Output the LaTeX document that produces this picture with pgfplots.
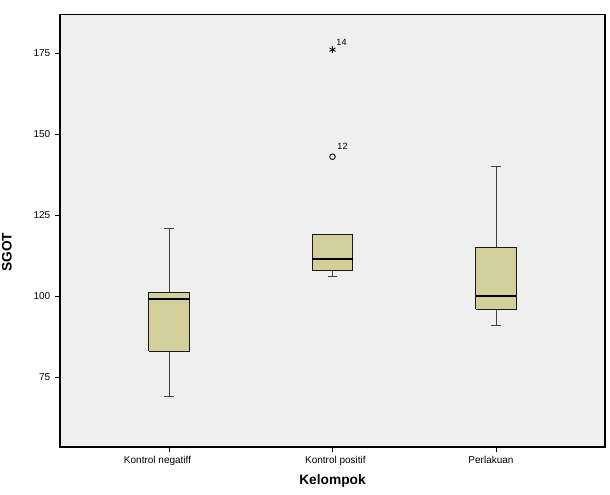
\documentclass[border=0pt]{standalone}
\usepackage{fontspec}
\setmainfont{Liberation Sans}
\usepackage{pgfplots}
\pgfplotsset{compat=1.18}
\definecolor{boxfill}{HTML}{D3CF9A}
\definecolor{bg}{HTML}{EFEFEF}
\begin{document}
\begin{tikzpicture}
\useasboundingbox (-45pt,-35.25pt) rectangle (412.5pt,335.25pt);
\begin{axis}[
  at={(0,0)}, anchor=south west,
  scale only axis, width=408.75pt, height=324.5pt,
  xmin=0.3333, xmax=3.6667, ymin=53.5, ymax=186.9,
  axis background/.style={fill=bg},
  axis line style={black, line width=0.9pt},
  xtick={1,2,3},
  xticklabels={{Kontrol negatiff\hspace*{17.2pt}},{\hspace*{4.4pt}Kontrol positif},{Perlakuan\hspace*{7.5pt}}},
  ytick={75,100,125,150,175},
  tick align=outside, tick pos=left,
  major tick length=3.75pt,
  tick style={black, line width=0.6pt},
  ticklabel style={font=\fontsize{7.5}{8}\selectfont},
  /pgf/number format/assume math mode=true,
  xlabel={Kelompok}, ylabel={SGOT},
  label style={font=\bfseries\fontsize{10.3}{12}\selectfont},
  xlabel style={at={(axis description cs:0.5,-0.0786)}, anchor=center},
  ylabel style={at={(axis description cs:-0.0973,0.45)}, anchor=center},
  whisk/.style={draw=black!75, line width=0.65pt, forget plot},
  bx/.style={draw=black!90, line width=0.75pt, fill=boxfill, line join=miter, forget plot},
  med/.style={draw=black, line width=1.6pt, forget plot},
]
% Kontrol negatiff: min 69, Q1 83, median 99, Q3 101, max 121
\addplot[whisk] coordinates {(1,69) (1,83)};
\addplot[whisk] coordinates {(1,101) (1,121)};
\addplot[whisk] coordinates {(0.97,69) (1.03,69)};
\addplot[whisk] coordinates {(0.97,121) (1.03,121)};
\addplot[bx] coordinates {(0.875,83) (1.125,83) (1.125,101) (0.875,101) (0.875,83)};
\addplot[med] coordinates {(0.875,99) (1.125,99)};
% Kontrol positif: min 106, Q1 108, median 111.5, Q3 119, max 119
\addplot[whisk] coordinates {(2,106) (2,108)};
\addplot[whisk] coordinates {(1.97,106) (2.03,106)};
\addplot[bx] coordinates {(1.875,108) (2.125,108) (2.125,119) (1.875,119) (1.875,108)};
\addplot[med] coordinates {(1.875,111.5) (2.125,111.5)};
% Perlakuan: min 91, Q1 96, median 100, Q3 115, max 140
\addplot[whisk] coordinates {(3,91) (3,96)};
\addplot[whisk] coordinates {(3,115) (3,140)};
\addplot[whisk] coordinates {(2.97,91) (3.03,91)};
\addplot[whisk] coordinates {(2.97,140) (3.03,140)};
\addplot[bx] coordinates {(2.875,96) (3.125,96) (3.125,115) (2.875,115) (2.875,96)};
\addplot[med] coordinates {(2.875,100) (3.125,100)};
% outliers
\addplot[only marks, mark=o, mark size=2.1pt, mark options={line width=0.65pt}, black,
  nodes near coords, point meta=explicit symbolic,
  nodes near coords style={font=\fontsize{6.8}{7}\selectfont, anchor=center, xshift=7.5pt, yshift=7.5pt}]
  coordinates {(2,143) [12]};
\addplot[only marks, mark=asterisk, mark size=2.6pt, mark options={line width=0.65pt}, black,
  nodes near coords, point meta=explicit symbolic,
  nodes near coords style={font=\fontsize{6.8}{7}\selectfont, anchor=center, xshift=6.75pt, yshift=5.8pt}]
  coordinates {(2,176) [14]};
\end{axis}
\end{tikzpicture}
\end{document}
